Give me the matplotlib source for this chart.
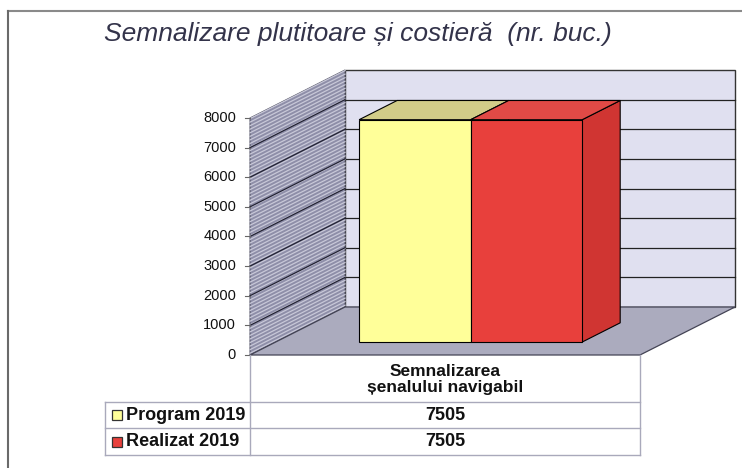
import numpy as np
import matplotlib.pyplot as plt
from matplotlib.patches import Polygon, Rectangle
from matplotlib.transforms import IdentityTransform

plt.rcParams['font.family'] = ['Liberation Sans', 'DejaVu Sans']

# data
title = 'Semnalizare plutitoare și costieră  (nr. buc.)'
categories = ['Semnalizarea\nșenalului navigabil']
series = ['Program 2019', 'Realizat 2019']
values = [7505, 7505]
yticks = [0, 1000, 2000, 3000, 4000, 5000, 6000, 7000, 8000]

# colours: front, top, side of each series
front_c = ['#FFFF99', '#E8403C']
top_c = ['#D2CC88', '#E14A46']
side_c = ['#CFCB80', '#D03532']

W, H = 742, 468
fig = plt.figure(figsize=(W / 100, H / 100), dpi=100)

# the front plane of the 3-D box; depth is a pixel shift on top of it
ax = fig.add_axes([250 / W, 1 - 355 / H, 390 / W, 237 / H])
ax.set_xlim(0, 1)
ax.set_ylim(yticks[0], yticks[-1])
ax.axis('off')
DX, DY = 95, 48
ID = IdentityTransform()


def P(c, v, d):
    x, y = ax.transData.transform((c, v))
    return x + DX * d, y + DY * d


def img(x, y):
    # picture pixel (y down) -> display
    return x, H - y


def face(pts, fc, ec='black', lw=0.8, z=1):
    ax.add_patch(Polygon(pts, closed=True, fc=fc, ec=ec, lw=lw,
                         transform=ID, clip_on=False, zorder=z))


def line(p0, p1, **kw):
    ax.plot([p0[0], p1[0]], [p0[1], p1[1]], transform=ID,
            clip_on=False, **kw)


vmax = yticks[-1]

# back wall
face([P(0, 0, 1), P(1, 0, 1), P(1, vmax, 1), P(0, vmax, 1)], '#E0E0F0',
     ec='#333333', lw=1)
for v in yticks[1:-1]:
    line(P(0, v, 1), P(1, v, 1), color='#222222', lw=0.9, zorder=2)

# left wall with its striped texture
face([P(0, 0, 0), P(0, 0, 1), P(0, vmax, 1), P(0, vmax, 0)], '#8E8EA8',
     ec='#555566', lw=0.8)
for v in np.arange(60, vmax, 120):
    line(P(0, v, 0), P(0, v, 1), color='#C8C8D8', lw=0.9, zorder=2)
for v in yticks[1:-1]:
    line(P(0, v, 0), P(0, v, 1), color='#222233', lw=0.9, zorder=3)

# floor
face([P(0, 0, 0), P(1, 0, 0), P(1, 0, 1), P(0, 0, 1)], '#ABABBE',
     ec='#444455', lw=0.9, z=2)

# bars
bw = 0.286
d0, d1 = 0.27, 0.67
for i, v in enumerate(values):
    c0 = 0.5 - bw + i * bw
    c1 = c0 + bw
    face([P(c1, 0, d0), P(c1, 0, d1), P(c1, v, d1), P(c1, v, d0)],
         side_c[i], z=4)
    face([P(c0, v, d0), P(c1, v, d0), P(c1, v, d1), P(c0, v, d1)],
         top_c[i], z=4)
    face([P(c0, 0, d0), P(c1, 0, d0), P(c1, v, d0), P(c0, v, d0)],
         front_c[i], z=4)

# value axis ticks and labels
for v in yticks:
    x, y = P(0, v, 0)
    line((x - 5, y), (x, y), color='#666666', lw=0.8, zorder=3)
    ax.text(x - 14, y, f'{v}', transform=ID, ha='right', va='center',
            fontsize=10.5, color='#111111')

# data table under the chart
gc = '#A9A9BB'
x0 = P(0, 0, 0)[0]
x1 = P(1, 0, 0)[0]
xl = 105
top_y = H - P(0, 0, 0)[1]
row_y = [402, 428, 455]
line(img(x0, top_y), img(x0, row_y[-1]), color=gc, lw=1, zorder=3)
line(img(x1, top_y), img(x1, row_y[-1]), color=gc, lw=1, zorder=3)
line(img(xl, row_y[0]), img(xl, row_y[-1]), color=gc, lw=1, zorder=3)
for y in row_y:
    line(img(xl, y), img(x1, y), color=gc, lw=1, zorder=3)

xc = (x0 + x1) / 2
ax.text(*img(xc, (top_y + row_y[0]) / 2 + 1), categories[0], transform=ID,
        ha='center', va='center', fontsize=12.5, fontweight='bold',
        linespacing=1.05, color='#111111')
for i, name in enumerate(series):
    yc = (row_y[i] + row_y[i + 1]) / 2
    ax.add_patch(Rectangle(img(112, yc + 5), 10, 10, fc=front_c[i],
                           ec='#333333', lw=0.9, transform=ID,
                           clip_on=False))
    ax.text(*img(126, yc), name, transform=ID, ha='left', va='center',
            fontsize=13, fontweight='bold', color='#111111')
    ax.text(*img(xc, yc), f'{values[i]}', transform=ID, ha='center',
            va='center', fontsize=13, fontweight='bold', color='#111111')

# frame of the chart area
line(img(8, 11), img(W, 11), color='#8A8A8A', lw=1.5, zorder=5)
line(img(8, 11), img(8, H), color='#6A6A6A', lw=1.5, zorder=5)

fig.text(358 / W, 1 - 41 / H, title, ha='center', va='baseline',
         fontsize=19, fontstyle='italic', color='#33334A')

fig.savefig('out.png', dpi=100)
